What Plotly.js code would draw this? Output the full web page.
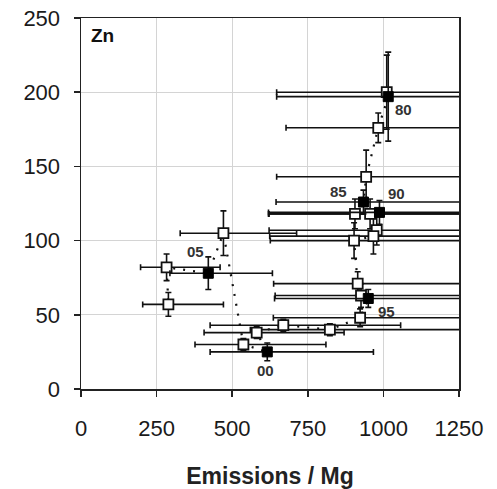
<!DOCTYPE html>
<html>
<head>
<meta charset="utf-8">
<script src="https://cdn.plot.ly/plotly-3.0.1.min.js"></script>
<style>
  html, body { margin: 0; padding: 0; background: #fff; }
  #chart { width: 497px; height: 489px; }
</style>
</head>
<body>
<div id="chart"></div>
<script>
// Open squares (annual values)
const openX     = [1011, 983, 943, 906, 956, 978, 967, 903, 915, 926, 923, 823, 669, 581, 537, 471, 283, 289];
const openY     = [200, 176, 143, 118, 118, 107, 103, 100, 71, 63, 48, 40, 43, 38, 30, 105, 82, 57];
const openXLow  = [647, 678, 647, 620, 622, 622, 624, 626, 637, 642, 636, 560, 427, 407, 377, 328, 197, 204];
const openXHigh = [1580, 1530, 1470, 1420, 1490, 1520, 1500, 1410, 1430, 1440, 1430, 1300, 1057, 870, 810, 713, 460, 471];
const openYErr  = [25, 10, 18, 10, 10, 10, 12, 12, 8, 8, 6, 4, 4, 4, 4, 15, 9, 8];

// Filled squares (labelled years)
const fullLabels = ['80', '85', '90', '95', '00', '05'];
const fullX      = [1016, 934, 987, 950, 616, 421];
const fullY      = [197, 126, 119, 61, 25, 78];
const fullXLow   = [647, 645, 620, 640, 427, 294];
const fullXHigh  = [1600, 1450, 1530, 1480, 967, 633];
const fullYErr   = [30, 8, 8, 6, 6, 11];

// Time trajectory (references into the arrays above)
const pathOrder = ['F0','O1','O2','F1','O3','O4','F2','O5','O6','O7','O8','O9','F3','O10',
                   'O11','O12','O13','F4','O14','O15','F5','O16','O17'];

const xTicks = [0, 250, 500, 750, 1000, 1250];
const yTicks = [0, 50, 100, 150, 200, 250];

// label offsets (pixels) – styling only
const labelShift = {
  '80': [15, -13], '85': [-25, 11], '90': [17, 19],
  '95': [18, -13], '00': [-2, -19], '05': [-13, 22]
};

const pick = (ref) => {
  const i = parseInt(ref.slice(1), 10);
  return ref[0] === 'F' ? [fullX[i], fullY[i]] : [openX[i], openY[i]];
};
const pathX = pathOrder.map(r => pick(r)[0]);
const pathY = pathOrder.map(r => pick(r)[1]);

const errStyle = { color: '#111', thickness: 1.6, width: 3 };

const traces = [
  {
    x: pathX, y: pathY, mode: 'lines', type: 'scatter',
    line: { color: '#111', width: 2.2, dash: '2px,8px' },
    hoverinfo: 'skip', showlegend: false
  },
  {
    x: openX, y: openY, mode: 'markers', type: 'scatter',
    marker: { symbol: 'square', size: 10, color: '#fff', line: { color: '#111', width: 1.8 } },
    error_x: Object.assign({ type: 'data', symmetric: false,
      array: openXHigh.map((v, i) => v - openX[i]),
      arrayminus: openX.map((v, i) => v - openXLow[i]) }, errStyle),
    error_y: Object.assign({ type: 'data', array: openYErr }, errStyle),
    showlegend: false
  },
  {
    x: fullX, y: fullY, mode: 'markers', type: 'scatter',
    marker: { symbol: 'square', size: 10, color: '#000', line: { color: '#000', width: 1 } },
    error_x: Object.assign({ type: 'data', symmetric: false,
      array: fullXHigh.map((v, i) => v - fullX[i]),
      arrayminus: fullX.map((v, i) => v - fullXLow[i]) }, errStyle),
    error_y: Object.assign({ type: 'data', array: fullYErr }, errStyle),
    showlegend: false
  }
];

const annotations = fullLabels.map((t, i) => ({
  x: fullX[i], y: fullY[i], text: '<b>' + t + '</b>', showarrow: false,
  xshift: labelShift[t][0], yshift: labelShift[t][1],
  font: { family: 'Liberation Sans, Arial, sans-serif', size: 15, color: '#333' }
}));
annotations.push({
  xref: 'paper', yref: 'paper', x: 0.058, y: 0.954, text: '<b>Zn</b>',
  showarrow: false, xanchor: 'center', yanchor: 'middle',
  font: { family: 'Liberation Sans, Arial, sans-serif', size: 19, color: '#111' }
});

const axisCommon = {
  showgrid: true, gridcolor: '#d4d4d4', gridwidth: 1,
  zeroline: false, showline: true, linecolor: '#222', linewidth: 1.5, mirror: true,
  ticks: 'outside', ticklen: 6, tickcolor: '#222', tickwidth: 1.5,
  tickfont: { family: 'Liberation Sans, Arial, sans-serif', size: 22, color: '#1a1a1a' }
};

const layout = {
  width: 497, height: 489,
  margin: { l: 81, r: 38, t: 18, b: 100 },
  paper_bgcolor: '#fff', plot_bgcolor: '#fff',
  showlegend: false,
  xaxis: Object.assign({}, axisCommon, {
    range: [0, 1250], tickvals: xTicks, ticktext: xTicks.map(String),
    ticklabelstandoff: 13,
    title: { text: '<b>Emissions / Mg</b>', standoff: 28,
      font: { family: 'Liberation Sans, Arial, sans-serif', size: 23, color: '#222' } }
  }),
  yaxis: Object.assign({}, axisCommon, {
    range: [0, 250], tickvals: yTicks, ticktext: yTicks.map(String),
    ticklabelstandoff: 9
  }),
  annotations: annotations
};

Plotly.newPlot('chart', traces, layout, { staticPlot: true, displayModeBar: false });
</script>
</body>
</html>
